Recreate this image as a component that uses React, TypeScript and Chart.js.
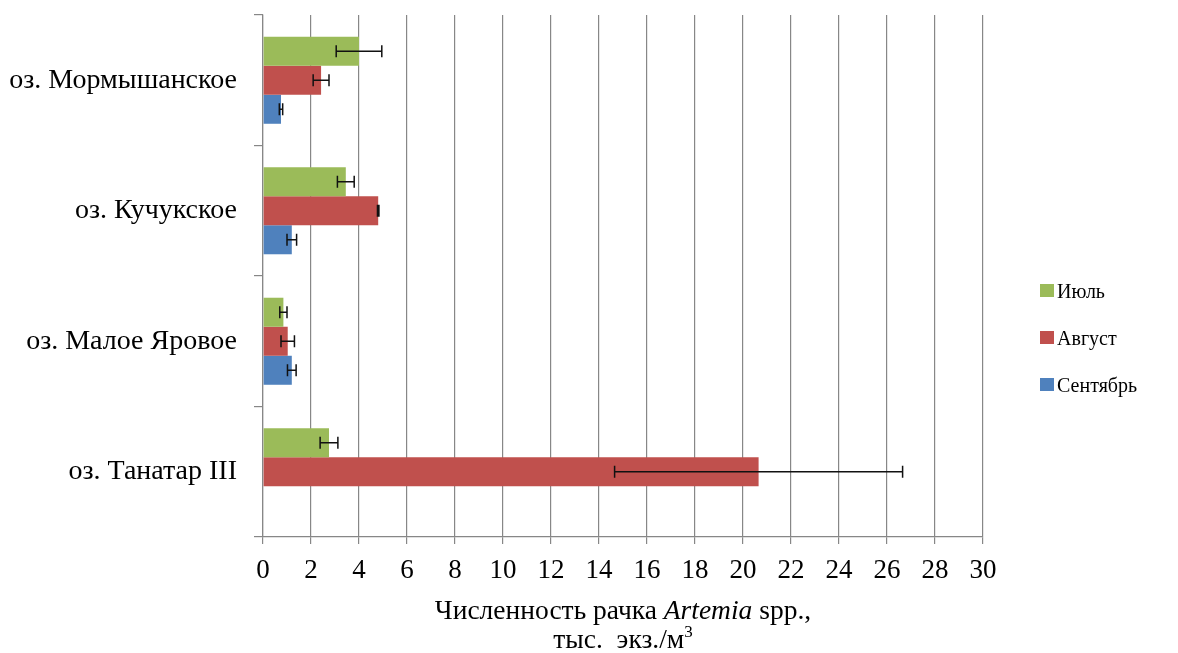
import React, { useEffect, useRef } from 'react';
import { Chart, registerables, Plugin } from 'chart.js';

Chart.register(...registerables);

const lakes = ['оз. Мормышанское', 'оз. Кучукское', 'оз. Малое Яровое', 'оз. Танатар III'];

const july = [4.0, 3.45, 0.85, 2.75];
const julyErr = [0.95, 0.35, 0.15, 0.37];
const august = [2.42, 4.8, 1.03, 20.65];
const augustErr = [0.33, 0.03, 0.28, 6.0];
const september = [0.75, 1.2, 1.2, 0];
const septemberErr = [0.07, 0.2, 0.18, 0];

const seriesNames = ['Июль', 'Август', 'Сентябрь'];
const seriesColors = ['#9BBB59', '#C0504D', '#4F81BD'];
const errors = [julyErr, augustErr, septemberErr];

const xTitleStart = 'Численность рачка ';
const xTitleItalic = 'Artemia';
const xTitleEnd = ' spp.,';
const xTitleUnit = 'тыс.  экз./м';
const xTitleSup = '3';

const SERIF = "'Liberation Serif', 'Times New Roman', serif";
const GRID = '#878787';

// whiskers, drawn through the x scale
const errorBars: Plugin<'bar'> = {
  id: 'errorBars',
  afterDatasetsDraw(chart) {
    const { ctx } = chart;
    const xScale = chart.scales.x;
    ctx.save();
    ctx.strokeStyle = '#111';
    ctx.lineWidth = 1.5;
    chart.data.datasets.forEach((ds, i) => {
      const meta = chart.getDatasetMeta(i);
      meta.data.forEach((bar, j) => {
        const err = errors[i][j];
        if (!err) return;
        const v = ds.data[j] as number;
        const x1 = xScale.getPixelForValue(v - err);
        const x2 = xScale.getPixelForValue(v + err);
        const y = bar.y;
        ctx.beginPath();
        ctx.moveTo(x1, y);
        ctx.lineTo(x2, y);
        ctx.moveTo(x1, y - 6);
        ctx.lineTo(x1, y + 6);
        ctx.moveTo(x2, y - 6);
        ctx.lineTo(x2, y + 6);
        ctx.stroke();
      });
    });
    ctx.restore();
  },
};

// legend on the right and the two-line axis title with italics
const extras: Plugin<'bar'> = {
  id: 'extras',
  afterDraw(chart) {
    const { ctx, chartArea } = chart;
    ctx.save();
    ctx.fillStyle = '#000';
    ctx.textBaseline = 'alphabetic';

    const mid = (chartArea.top + chartArea.bottom) / 2;
    chart.data.datasets.forEach((ds, i) => {
      const cy = mid + 62 + (i - 1) * 47;
      const bx = chartArea.right + 57;
      ctx.fillStyle = ds.backgroundColor as string;
      ctx.fillRect(bx, cy - 7, 14, 13);
      ctx.fillStyle = '#000';
      ctx.font = `20px ${SERIF}`;
      ctx.fillText(ds.label as string, bx + 17, cy + 7);
    });

    const cx = (chartArea.left + chartArea.right) / 2;
    const normal = `27.5px ${SERIF}`;
    const italic = `italic 27.5px ${SERIF}`;
    const sup = `17px ${SERIF}`;
    ctx.font = normal;
    const w1 = ctx.measureText(xTitleStart).width;
    const w3 = ctx.measureText(xTitleEnd).width;
    ctx.font = italic;
    const w2 = ctx.measureText(xTitleItalic).width;
    let x = cx - (w1 + w2 + w3) / 2;
    const y1 = chartArea.bottom + 82;
    ctx.font = normal;
    ctx.fillText(xTitleStart, x, y1);
    x += w1;
    ctx.font = italic;
    ctx.fillText(xTitleItalic, x, y1);
    x += w2;
    ctx.font = normal;
    ctx.fillText(xTitleEnd, x, y1);

    const y2 = y1 + 29;
    const wu = ctx.measureText(xTitleUnit).width;
    ctx.font = sup;
    const ws = ctx.measureText(xTitleSup).width;
    x = cx - (wu + ws) / 2;
    ctx.font = normal;
    ctx.fillText(xTitleUnit, x, y2);
    ctx.font = sup;
    ctx.fillText(xTitleSup, x + wu, y2 - 11);
    ctx.restore();
  },
};

const App: React.FC = () => {
  const chartRef = useRef<HTMLCanvasElement | null>(null);
  const chartInstance = useRef<Chart | null>(null);

  useEffect(() => {
    const canvas = chartRef.current?.getContext('2d');
    if (!canvas) return;
    if (chartInstance.current) chartInstance.current.destroy();

    const values = [july, august, september];

    chartInstance.current = new Chart(canvas, {
      type: 'bar',
      data: {
        labels: lakes,
        datasets: seriesNames.map((name, i) => ({
          label: name,
          data: values[i],
          backgroundColor: seriesColors[i],
          borderWidth: 0,
          categoryPercentage: 0.667,
          barPercentage: 1.0,
        })),
      },
      options: {
        indexAxis: 'y',
        responsive: false,
        animation: false,
        layout: { padding: { top: 15, right: 195, bottom: 0, left: 0 } },
        scales: {
          x: {
            min: 0,
            max: 30,
            ticks: {
              stepSize: 2,
              color: '#000',
              padding: 11,
              font: { family: SERIF, size: 27 },
            },
            grid: { color: GRID, lineWidth: 1.2, tickLength: 7, tickColor: GRID },
            border: { color: GRID, width: 1.2 },
            afterFit: (s) => {
              s.height = 116;
            },
          },
          y: {
            ticks: {
              color: '#000',
              padding: 17,
              font: { family: SERIF, size: 28 },
            },
            grid: {
              drawOnChartArea: false,
              offset: true,
              tickLength: 9,
              color: GRID,
              lineWidth: 1.2,
            },
            border: { color: GRID, width: 1.2 },
            afterFit: (s) => {
              s.width = 263;
              s.paddingTop = 0;
              s.paddingBottom = 0;
            },
          },
        },
        plugins: {
          legend: { display: false },
          tooltip: { enabled: false },
        },
      },
      plugins: [errorBars, extras],
    });

    return () => {
      if (chartInstance.current) {
        chartInstance.current.destroy();
        chartInstance.current = null;
      }
    };
  }, []);

  return (
    <div style={{ position: 'absolute', left: 0, top: 0, width: 1178, height: 653, background: '#fff' }}>
      <canvas ref={chartRef} width={1178} height={653} />
    </div>
  );
};

export default App;
